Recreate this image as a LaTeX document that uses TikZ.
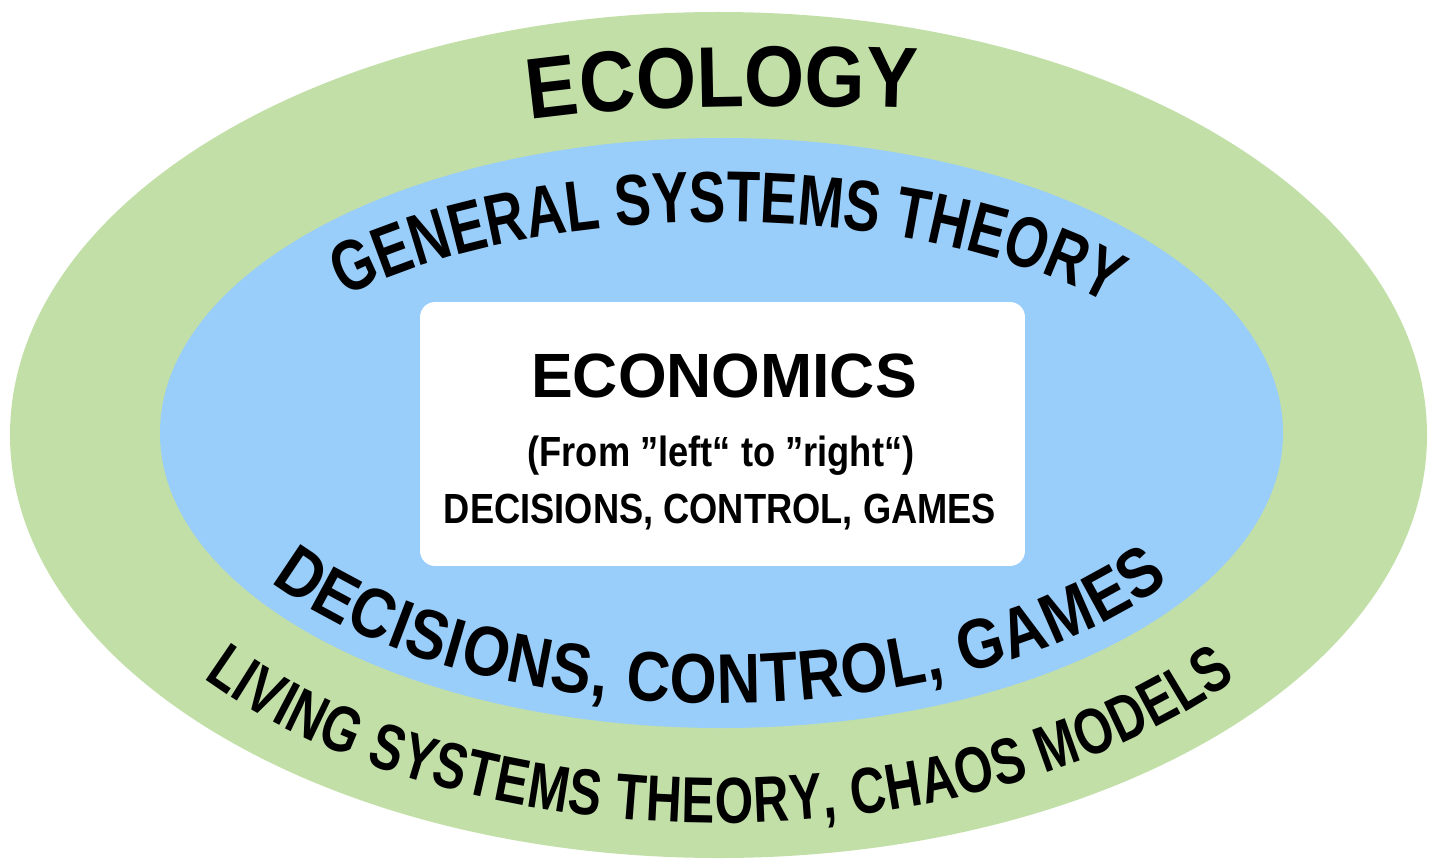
\documentclass[tikz,border=0pt]{standalone}
\usepackage{fontspec}
\newfontfamily\ringface{Liberation Sans Bold}[FakeStretch=0.76]
\newfontfamily\midface{Liberation Sans Bold}[FakeStretch=0.86]
\newfontfamily\ecoface{Liberation Sans Bold}[FakeStretch=0.9]
\newfontfamily\headface{Liberation Sans Bold}
\usetikzlibrary{calc}
\usetikzlibrary{decorations.text}
\definecolor{ecogreen}{RGB}{194,223,168}
\definecolor{sysblue}{RGB}{153,205,250}
\tikzset{
  ringtext/.style={decorate, decoration={text along path, text align=fit to path, text={#1}}},
  econbox/.style={fill=white, rounded corners=0.3cm, minimum width=12.1cm, minimum height=5.28cm},
  boxline/.style={anchor=base, inner sep=0pt}
}

\begin{document}
\begin{tikzpicture}[x=0.02cm, y=0.02cm]
	\useasboundingbox (0,0) rectangle (1429,860);
	\coordinate (c) at (720,427);
	\fill[ecogreen] (718.5,425) ellipse[x radius=708.5, y radius=423];
	\fill[sysblue] (721.5,427) ellipse[x radius=561.5, y radius=295];

	\node[econbox] (box) at (722.5,426) {};
	\node[boxline, font=\headface\fontsize{35.6}{36}\selectfont] (econ) at (724,463) {ECONOMICS};
	\node[boxline, font=\midface\fontsize{24}{26}\selectfont] (fromto) at (721,394) {(From ”left“ to ”right“)};
	\node[boxline, font=\midface\fontsize{24}{26}\selectfont] (dcg) at (720,337) {DECISIONS, CONTROL, GAMES};

	% texts along the rings
	\path[ringtext={|\ecoface\fontsize{49}{50}\selectfont|ECOLOGY}]
		(530,740) .. controls (620,754) and (780,756) .. (900,752);
	\path[ringtext={|\ringface\fontsize{41}{43}\selectfont|GENERAL SYSTEMS THEORY}]
		($(c)+(140:490 and 211)$) arc[start angle=140, end angle=40, x radius=490, y radius=211];
	\path[ringtext={|\midface\fontsize{40}{42}\selectfont|DECISIONS, CONTROL, GAMES}]
		($(c)+(213.5:539 and 270)$) arc[start angle=213.5, end angle=326.5, x radius=539, y radius=270];
	\path[ringtext={|\ringface\fontsize{37}{39}\selectfont|LIVING SYSTEMS THEORY, CHAOS MODELS}]
		($(c)+(219:665 and 390)$) arc[start angle=219, end angle=321, x radius=665, y radius=390];
\end{tikzpicture}
\end{document}
